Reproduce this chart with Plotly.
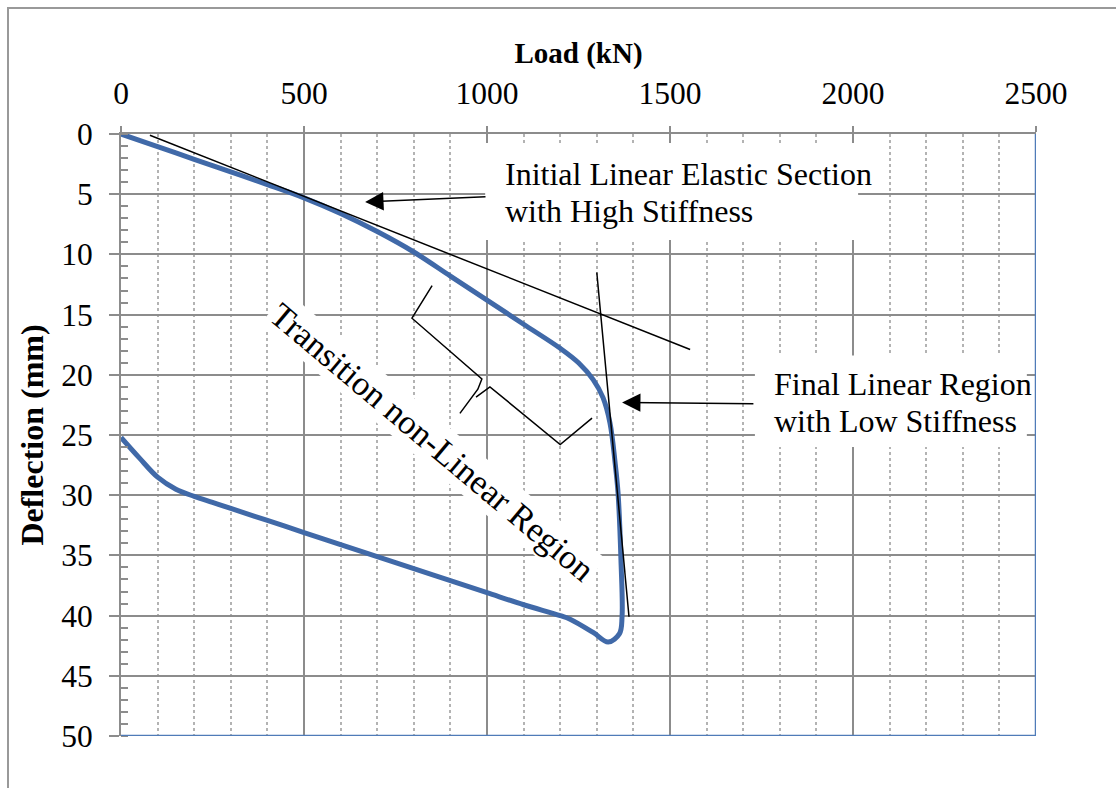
import plotly.graph_objects as go

# ---- data ----
load_kN = [0, 100, 200, 300, 400, 500, 600, 700, 800, 900, 1000, 1100, 1200, 1250, 1290, 1317,
           1336, 1350, 1358, 1366, 1369, 1362, 1331, 1290, 1227, 1200, 1100, 1000, 900, 800,
           700, 600, 500, 400, 300, 250, 200, 150, 100, 50, 0]
deflection_mm = [0, 1.05, 2.1, 3.15, 4.2, 5.3, 6.6, 8.1, 9.8, 11.8, 13.8, 15.8, 17.8, 19.0, 20.4, 21.9,
                 24.0, 27.3, 29.8, 35.4, 40.1, 41.5, 42.2, 41.4, 40.3, 40.0, 39.1, 38.1, 37.1, 36.1,
                 35.1, 34.1, 33.1, 32.1, 31.1, 30.6, 30.1, 29.5, 28.5, 26.9, 25.2]

tangent1_load = [79, 1555]
tangent1_defl = [0.1, 17.9]
tangent2_load = [1300, 1388]
tangent2_defl = [11.5, 40.1]

brace_left_load = [850, 795, 986, 975, 926]
brace_left_defl = [12.6, 15.3, 20.35, 21.2, 23.2]
brace_right_load = [970, 1008, 1200, 1287]
brace_right_defl = [21.85, 21.0, 25.8, 23.6]

x_ticks = [0, 500, 1000, 1500, 2000, 2500]
y_ticks = [0, 5, 10, 15, 20, 25, 30, 35, 40, 45, 50]

FONT = "Liberation Serif"
GRID = "#8c8c8c"
BLUE = "#4069A8"

fig = go.Figure()

fig.add_trace(go.Scatter(x=load_kN, y=deflection_mm, mode="lines",
                         line=dict(color=BLUE, width=5, shape="spline", smoothing=1.0),
                         hoverinfo="skip"))
for lx, ly in [(tangent1_load, tangent1_defl), (tangent2_load, tangent2_defl),
               (brace_left_load, brace_left_defl), (brace_right_load, brace_right_defl)]:
    fig.add_trace(go.Scatter(x=lx, y=ly, mode="lines",
                             line=dict(color="black", width=1.5), hoverinfo="skip"))

# white boxes behind the text (above grid, below data)
fig.add_shape(type="rect", xref="x", yref="y", x0=995, x1=2014, y0=0.75, y1=8.8,
              fillcolor="white", line=dict(width=0), layer="between")
fig.add_shape(type="rect", xref="x", yref="y", x0=1732, x1=2475, y0=18.4, y1=26.0,
              fillcolor="white", line=dict(width=0), layer="between")

# blue frame lines bottom/right of the plot area
fig.add_shape(type="line", xref="x", yref="y", x0=0, x1=2500, y0=50, y1=50,
              line=dict(color="#4F7BB8", width=2.5), layer="above")
fig.add_shape(type="line", xref="x", yref="y", x0=2500, x1=2500, y0=0, y1=50,
              line=dict(color="#4F7BB8", width=2.5), layer="above")

# outer chart border (cropped on right/bottom)
fig.add_shape(type="rect", xref="paper", yref="paper", x0=-0.1235, x1=1.12, y0=-0.12, y1=1.2093,
              line=dict(color="#999999", width=2), fillcolor="rgba(0,0,0,0)", layer="above")

tf = dict(family=FONT, size=32, color="black")
for txt, xx, yy in [("Initial Linear Elastic Section", 1045, 3.36),
                    ("with High Stiffness", 1045, 6.43),
                    ("Final Linear Region", 1778, 20.80),
                    ("with Low Stiffness", 1778, 23.87)]:
    fig.add_annotation(x=xx, y=yy, xref="x", yref="y", xanchor="left", yanchor="middle",
                       text=txt, showarrow=False, align="left", font=tf)
fig.add_annotation(x=852, y=25.6, xref="x", yref="y", text="Transition non-Linear Region",
                   showarrow=False, textangle=40,
                   font=dict(family=FONT, size=34.5, color="black"), bgcolor="white", borderpad=2)

# arrows
fig.add_annotation(x=667, y=5.65, ax=1000, ay=5.2, xref="x", yref="y", axref="x", ayref="y",
                   text="", showarrow=True, arrowhead=2, arrowsize=2.3, arrowwidth=1.6,
                   arrowcolor="black")
fig.add_annotation(x=1369, y=22.3, ax=1732, ay=22.4, xref="x", yref="y", axref="x", ayref="y",
                   text="", showarrow=True, arrowhead=2, arrowsize=2.3, arrowwidth=1.6,
                   arrowcolor="black")

fig.update_layout(
    width=1116, height=788,
    margin=dict(l=121, r=80, t=134, b=52, autoexpand=False),
    paper_bgcolor="white", plot_bgcolor="white",
    showlegend=False,
    font=dict(family=FONT, size=31, color="black"),
)
fig.update_xaxes(
    side="top", range=[0, 2500], tickvals=x_ticks, ticktext=[str(v) for v in x_ticks],
    showline=True, linecolor=GRID, linewidth=2,
    ticks="outside", ticklen=6, tickwidth=2, tickcolor=GRID,
    showgrid=True, gridcolor=GRID, gridwidth=2, zeroline=False,
    tickfont=dict(family=FONT, size=31.5, color="black"), ticklabelstandoff=9,
    title=dict(text="<b>Load (kN)</b>", font=dict(family=FONT, size=29, color="black"), standoff=4),
    minor=dict(dtick=100, showgrid=True, gridcolor="#b3b3b3", gridwidth=1.5, griddash="dot"),
    automargin=False,
)
fig.update_yaxes(
    range=[50, 0], tickvals=y_ticks, ticktext=[str(v) for v in y_ticks],
    showline=True, linecolor=GRID, linewidth=2,
    ticks="outside", ticklen=10, tickwidth=2, tickcolor=GRID,
    showgrid=True, gridcolor=GRID, gridwidth=2, zeroline=False,
    tickfont=dict(family=FONT, size=31.5, color="black"), ticklabelstandoff=10,
    title=dict(text="<b>Deflection (mm)</b>", font=dict(family=FONT, size=32, color="black"), standoff=8),
    minor=dict(dtick=1, ticks="inside", ticklen=7, tickwidth=2, tickcolor=GRID, showgrid=False),
    automargin=False,
)

fig.write_html("out.html")
